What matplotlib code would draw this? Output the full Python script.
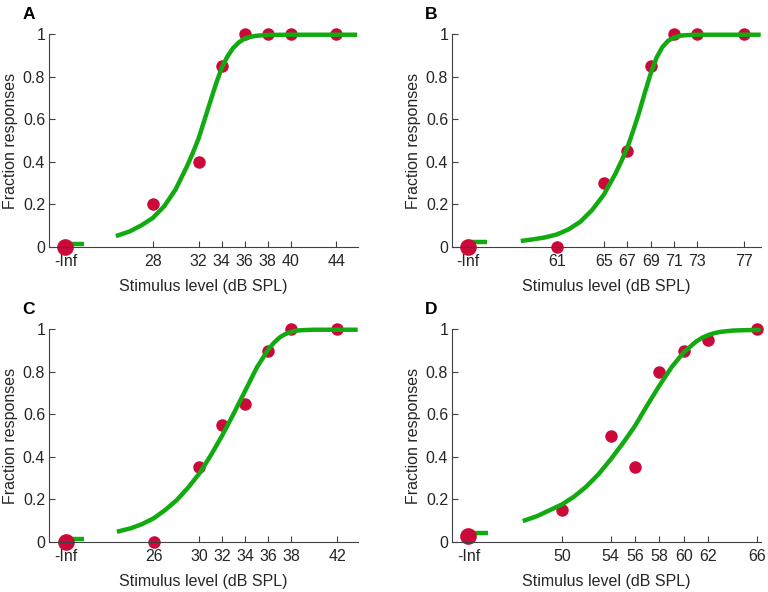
import matplotlib
matplotlib.use("Agg")
import matplotlib.pyplot as plt

plt.rcParams['font.family'] = ['Liberation Sans', 'DejaVu Sans']

# --- data ---
letters = ["A", "B", "C", "D"]

levels_a = [28, 32, 34, 36, 38, 40, 44]
frac_a = [0.2, 0.4, 0.85, 1, 1, 1, 1]
levels_b = [61, 65, 67, 69, 71, 73, 77]
frac_b = [0, 0.3, 0.45, 0.85, 1, 1, 1]
levels_c = [26, 30, 32, 34, 36, 38, 42]
frac_c = [0, 0.35, 0.55, 0.65, 0.9, 1, 1]
levels_d = [50, 54, 56, 58, 60, 62, 66]
frac_d = [0.15, 0.5, 0.35, 0.8, 0.9, 0.95, 1]

# response at -Inf (no stimulus) and fitted guess rate
inf_frac = [0, 0, 0, 0.025]
guess = [0.015, 0.02, 0.015, 0.04]

# fitted psychometric curves
curve_xa = [24.8, 26, 27, 28, 29, 30, 31, 31.5, 32, 32.5, 33, 33.5, 34, 34.5, 35, 35.5,
            36, 36.5, 37, 38, 40, 42, 44, 45.8]
curve_ya = [0.05, 0.072, 0.10, 0.135, 0.19, 0.27, 0.38, 0.442, 0.51, 0.595, 0.68, 0.765,
            0.84, 0.895, 0.935, 0.962, 0.98, 0.988, 0.993, 0.997, 0.998, 0.998, 0.998, 0.998]
curve_xb = [57.9, 59, 60, 61, 62, 63, 64, 65, 65.5, 66, 66.5, 67, 67.5, 68, 68.5, 69,
            69.5, 70, 70.5, 71, 71.5, 72, 73, 75, 77, 78.4]
curve_yb = [0.027, 0.035, 0.044, 0.058, 0.082, 0.118, 0.173, 0.245, 0.295, 0.345, 0.403,
            0.465, 0.545, 0.63, 0.725, 0.815, 0.89, 0.94, 0.97, 0.985, 0.993, 0.996,
            0.998, 0.998, 0.998, 0.998]
curve_xc = [22.8, 24, 25, 26, 27, 28, 29, 30, 31, 32, 33, 34, 35, 36, 36.5, 37, 37.5, 38,
            38.5, 39, 40, 42, 43.8]
curve_yc = [0.047, 0.063, 0.083, 0.11, 0.149, 0.195, 0.254, 0.322, 0.408, 0.502, 0.605,
            0.712, 0.82, 0.905, 0.937, 0.962, 0.978, 0.988, 0.994, 0.996, 0.998, 0.998,
            0.998]
curve_xd = [46.8, 48, 49, 50, 51, 52, 53, 54, 55, 56, 57, 58, 59, 60, 61, 61.5, 62, 62.5,
            63, 64, 65, 66.3]
curve_yd = [0.097, 0.121, 0.148, 0.175, 0.212, 0.259, 0.317, 0.387, 0.463, 0.545, 0.642,
            0.735, 0.822, 0.892, 0.942, 0.96, 0.973, 0.982, 0.988, 0.994, 0.996, 0.997]

# where -Inf sits on the axis, and axis limits
inf_pos = [20.4, 53.4, 18.35, 42.35]
xlims = [(19.0, 45.85), (52.05, 78.4), (16.9, 43.8), (41.03, 66.3)]

levels = [levels_a, levels_b, levels_c, levels_d]
fracs = [frac_a, frac_b, frac_c, frac_d]
curves_x = [curve_xa, curve_xb, curve_xc, curve_xd]
curves_y = [curve_ya, curve_yb, curve_yc, curve_yd]

red = '#cc0a3a'
green = '#11aa11'
axcol = '#404040'
txtcol = '#262626'
fs = 11.5

W, H = 768, 592
fig = plt.figure(figsize=(W / 100, H / 100), dpi=100)

# axes boxes in pixels: left, top(y=1), right, bottom(y=0)
boxes = [(49.3, 34.3, 357.7, 246.7), (452.3, 34.3, 760.7, 246.7),
         (49.3, 329.3, 357.7, 541.7), (452.3, 329.3, 760.7, 541.7)]

for i in range(4):
    l, t, r, b = boxes[i]
    ax = fig.add_axes([l / W, 1 - b / H, (r - l) / W, (b - t) / H])

    ax.plot(curves_x[i], curves_y[i], color=green, lw=3.2, zorder=3,
            solid_capstyle='butt', solid_joinstyle='round', clip_on=False)
    ax.plot([inf_pos[i], inf_pos[i] + 1.6], [guess[i], guess[i]], color=green,
            lw=3.2, zorder=1, solid_capstyle='butt', clip_on=False)
    ax.plot(levels[i], fracs[i], 'o', color=red, ms=9, mew=0, zorder=2, clip_on=False)
    ax.plot([inf_pos[i]], [inf_frac[i]], 'o', color=red, ms=12, mew=0, zorder=2,
            clip_on=False)

    ax.set_xlim(*xlims[i])
    ax.set_ylim(0, 1)
    ax.set_xticks([inf_pos[i]] + levels[i])
    ax.set_xticklabels(['-Inf'] + [str(v) for v in levels[i]])
    ax.set_yticks([0, 0.2, 0.4, 0.6, 0.8, 1])
    ax.set_yticklabels(['0', '0.2', '0.4', '0.6', '0.8', '1'])
    ax.tick_params(direction='in', length=4, width=0.8, color=axcol,
                   labelsize=fs, labelcolor=txtcol)
    ax.tick_params(axis='x', pad=5)
    ax.tick_params(axis='y', pad=3)

    for side in ['top', 'right']:
        ax.spines[side].set_visible(False)
    for side in ['left', 'bottom']:
        ax.spines[side].set_color(axcol)
        ax.spines[side].set_linewidth(0.8)

    ax.set_xlabel('Stimulus level (dB SPL)', fontsize=fs, color=txtcol)
    ax.set_ylabel('Fraction responses', fontsize=fs, color=txtcol)
    ax.xaxis.set_label_coords(0.5, -0.152)
    ax.yaxis.set_label_coords(-0.1, 0.5)

    fig.text((l - 27) / W, 1 - (t - 15.5) / H, letters[i], fontsize=12.5,
             fontweight='bold', ha='left', va='baseline', color='black')

fig.savefig('out.png', dpi=100)
